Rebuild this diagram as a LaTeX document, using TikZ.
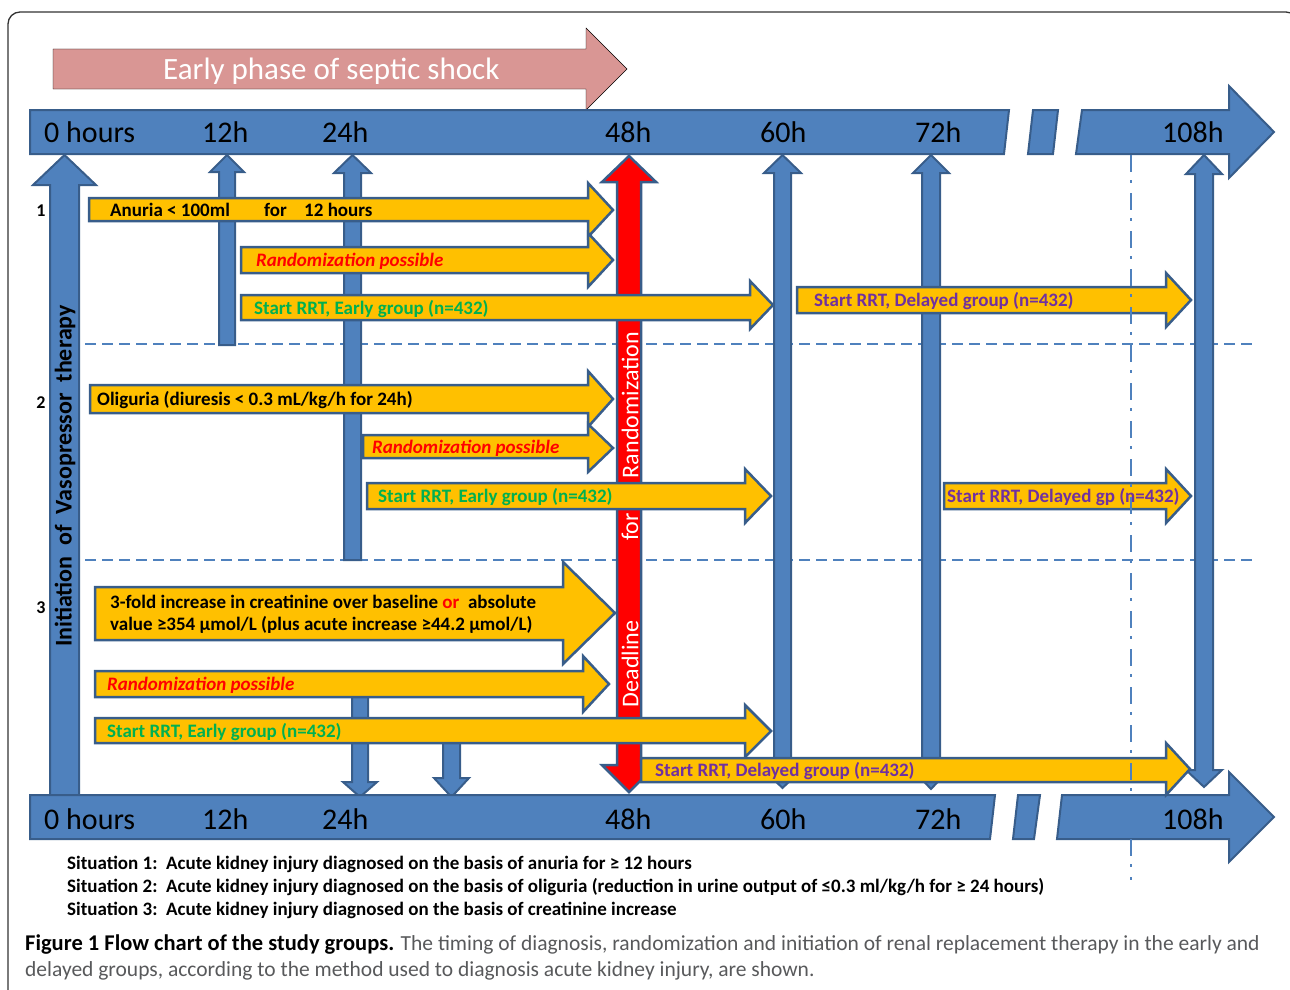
\documentclass[tikz,border=0pt]{standalone}
\usepackage{fontspec}
\setmainfont{Carlito}
\definecolor{axblue}{HTML}{4F81BD}
\definecolor{axline}{HTML}{385D8A}
\definecolor{yel}{HTML}{FFC000}
\definecolor{pinkarr}{HTML}{D99694}
\definecolor{grn}{HTML}{00B050}
\definecolor{purp}{HTML}{7030A0}
\definecolor{capgray}{HTML}{58595B}
\definecolor{framecol}{HTML}{333333}
\tikzset{
  bluearr/.style={fill=axblue, draw=axline, line width=2pt, line join=miter},
  redarr/.style={fill=red, draw=axline, line width=2.5pt, line join=miter},
  yelarr/.style={fill=yel, draw=axline, line width=2.5pt, line join=miter},
  pinkstyle/.style={fill=pinkarr},
  dashline/.style={draw=axblue, line width=2.5pt, dash pattern=on 11pt off 6pt},
  dashdotline/.style={draw=axblue, line width=2.5pt, dash pattern=on 17pt off 8pt on 3pt off 10pt},
  axlabel/.style={font=\fontsize{30}{34}\selectfont, anchor=base west, inner sep=0pt},
  ytext/.style={font=\bfseries\fontsize{19}{22}\selectfont, anchor=base west, inner sep=0pt},
  rtext/.style={font=\bfseries\itshape\fontsize{19}{22}\selectfont, anchor=base west, inner sep=0pt, text=red},
  numtext/.style={font=\bfseries\fontsize{18}{21}\selectfont, anchor=base, inner sep=0pt},
  redlabel/.style={font=\fontsize{24}{28}\selectfont, text=white, rotate=90, inner sep=0pt},
  sittext/.style={font=\bfseries\fontsize{19}{22}\selectfont, anchor=base west, inner sep=0pt},
  captext/.style={font=\fontsize{21.5}{25}\selectfont, anchor=base west, inner sep=0pt, text=capgray},
}
% right block arrow: style, xleft, xheadbase, xtip, ytop, ybottom, headtop, headbottom
\newcommand{\rblk}[8]{\filldraw[#1] (#2,#5) -- (#3,#5) -- (#3,#7) -- (#4,{(#7+#8)/2}) -- (#3,#8) -- (#3,#6) -- (#2,#6) -- cycle;}
% vertical block arrow: style, xleft, xright, yend, yheadbase, ytip, headleft, headright
\newcommand{\vblk}[8]{\filldraw[#1] (#2,#4) -- (#2,#5) -- (#7,#5) -- ({(#7+#8)/2},#6) -- (#8,#5) -- (#3,#5) -- (#3,#4) -- cycle;}
% double vertical block arrow: style, xl, xr, toptip, topbase, botbase, bottip, hl, hr
\newcommand{\dblk}[9]{\filldraw[#1] (#2,#5) -- (#8,#5) -- ({(#8+#9)/2},#4) -- (#9,#5) -- (#3,#5) -- (#3,#6) -- (#9,#6) -- ({(#8+#9)/2},#7) -- (#8,#6) -- (#2,#6) -- cycle;}
\begin{document}
\begin{tikzpicture}[x=1pt,y=-1pt]
\useasboundingbox (0,0) rectangle (1290,990);
\begin{scope}
\clip (0,0) rectangle (1290,990);
\draw[framecol, line width=1.3pt, rounded corners=12pt] (8,12) rectangle (1298,1006);
\end{scope}

% early phase arrow
\rblk{pinkstyle}{53}{586}{627}{49}{89}{28}{110}
\node[anchor=base west, inner sep=0pt, text=white, font=\fontsize{31}{35}\selectfont] (early) at (163,80) {Early phase of septic shock};

% dashed separators
\draw[dashline] (85,344) -- (1253,344);
\draw[dashline] (85,560) -- (1253,560);

% vertical blue arrows
\vblk{bluearr}{50}{79}{800}{185}{155}{33}{96}
\vblk{bluearr}{219}{235}{345}{172}{155}{210}{244}
\vblk{bluearr}{344}{361}{560}{173}{155}{334}{371}
\vblk{bluearr}{352}{368}{688}{782}{797}{343}{377}
\vblk{bluearr}{443}{460}{740}{778}{797}{434}{469}
\dblk{bluearr}{774}{791}{155}{173}{770}{788}{764}{801}
\dblk{bluearr}{922}{940}{155}{173}{770}{789}{913}{949}
\dblk{bluearr}{1195}{1213}{155}{174}{770}{787}{1186}{1222}
% red deadline arrow
\dblk{redarr}{617}{641}{156}{182}{765}{792}{602}{656}
\node[redlabel] (rand) at (630,405) {Randomization};
\node[redlabel] (for) at (630,527) {for};
\node[redlabel] (dead) at (630,664) {Deadline};

% initiation text
\node[font=\bfseries\fontsize{24}{28}\selectfont, rotate=90, inner sep=0pt] (init) at (65,476) {Initiation\ \ of\ \ Vasopressor\ \ therapy};

% axes
\filldraw[bluearr] (30,110) -- (1009,110) -- (1004,154) -- (30,154) -- cycle;
\filldraw[bluearr] (1033,110) -- (1058,110) -- (1053,154) -- (1028,154) -- cycle;
\filldraw[bluearr] (1082,110) -- (1229,110) -- (1229,86) -- (1274,132) -- (1229,178) -- (1229,154) -- (1076,154) -- cycle;
\filldraw[bluearr] (30,795) -- (995,795) -- (990,839) -- (30,839) -- cycle;
\filldraw[bluearr] (1018,795) -- (1040,795) -- (1034,839) -- (1013,839) -- cycle;
\filldraw[bluearr] (1062,795) -- (1229,795) -- (1229,772) -- (1274,817) -- (1229,862) -- (1229,839) -- (1057,839) -- cycle;

% axis labels
\node[axlabel] (t0) at (44,142) {0 hours};
\node[axlabel] (t12) at (202,142) {12h};
\node[axlabel] (t24) at (322,142) {24h};
\node[axlabel] (t48) at (605,142) {48h};
\node[axlabel] (t60) at (760,142) {60h};
\node[axlabel] (t72) at (915,142) {72h};
\node[axlabel] (t108) at (1162,142) {108h};
\node[axlabel] (b0) at (44,829) {0 hours};
\node[axlabel] (b12) at (202,829) {12h};
\node[axlabel] (b24) at (322,829) {24h};
\node[axlabel] (b48) at (605,829) {48h};
\node[axlabel] (b60) at (760,829) {60h};
\node[axlabel] (b72) at (915,829) {72h};
\node[axlabel] (b108) at (1162,829) {108h};

% situation 1
\rblk{yelarr}{89}{588}{613}{198}{221}{183}{237}
\rblk{yelarr}{241}{588}{613}{247}{273}{233}{287}
\rblk{yelarr}{241}{750}{773}{295}{320}{281}{329}
\rblk{yelarr}{797}{1166}{1191}{287}{313}{273}{327}
\node[ytext] (a1) at (110,216) {Anuria < 100ml};
\node[ytext] (a2) at (264,216) {for};
\node[ytext] (a3) at (304,216) {12 hours};
\node[rtext] (b1) at (256,266) {Randomization possible};
\node[ytext, text=grn] (c1) at (254,314) {Start RRT, Early group (n=432)};
\node[ytext, text=purp] (d1) at (814,306) {Start RRT, Delayed group (n=432)};

% situation 2
\rblk{yelarr}{90}{588}{613}{385}{413}{371}{427}
\rblk{yelarr}{363}{588}{613}{435}{458}{424}{472}
\rblk{yelarr}{367}{745}{771}{483}{509}{469}{523}
\rblk{yelarr}{944}{1166}{1191}{483}{509}{469}{523}
\node[ytext] (e1) at (97,405) {Oliguria (diuresis < 0.3 mL/kg/h for 24h)};
\node[rtext] (f1) at (372,453) {Randomization possible};
\node[ytext, text=grn] (g1) at (378,502) {Start RRT, Early group (n=432)};
\node[ytext, text=purp] (h1) at (947,502) {Start RRT, Delayed gp (n=432)};

% situation 3
\rblk{yelarr}{95}{563}{615}{587}{640}{562}{664}
\rblk{yelarr}{95}{583}{609}{671}{697}{656}{712}
\rblk{yelarr}{95}{745}{771}{718}{743}{705}{757}
\rblk{yelarr}{641}{1166}{1190}{758}{782}{743}{795}
\node[ytext] (i1) at (110,608) {3-fold increase in creatinine over baseline \textcolor{red}{or}\ \ absolute};
\node[ytext] (i2) at (110,630) {value ≥354 µmol/L (plus acute increase ≥44.2 µmol/L)};
\node[rtext] (j1) at (107,690) {Randomization possible};
\node[ytext, text=grn] (k1) at (107,737) {Start RRT, Early group (n=432)};
\node[ytext, text=purp] (l1) at (655,776) {Start RRT, Delayed group (n=432)};

% row numbers
\node[numtext] (n1) at (41,216) {1};
\node[numtext] (n2) at (41,408) {2};
\node[numtext] (n3) at (41,613) {3};

% dash-dot marker
\draw[dashdotline] (1131,117) -- (1131,880);

% situations
\node[sittext] (s1) at (67,869) {Situation 1:\ \ Acute kidney injury diagnosed on the basis of anuria for ≥ 12 hours};
\node[sittext] (s2) at (67,892) {Situation 2:\ \ Acute kidney injury diagnosed on the basis of oliguria (reduction in urine output of ≤0.3 ml/kg/h for ≥ 24 hours)};
\node[sittext] (s3) at (67,915) {Situation 3:\ \ Acute kidney injury diagnosed on the basis of creatinine increase};

% caption
\node[captext] (cap1) at (25,950) {\textcolor{black}{\bfseries\fontsize{22.5}{25}\selectfont Figure 1 Flow chart of the study groups.} The timing of diagnosis, randomization and initiation of renal replacement therapy in the early and};
\node[captext] (cap2) at (25,976) {delayed groups, according to the method used to diagnosis acute kidney injury, are shown.};
\end{tikzpicture}
\end{document}
